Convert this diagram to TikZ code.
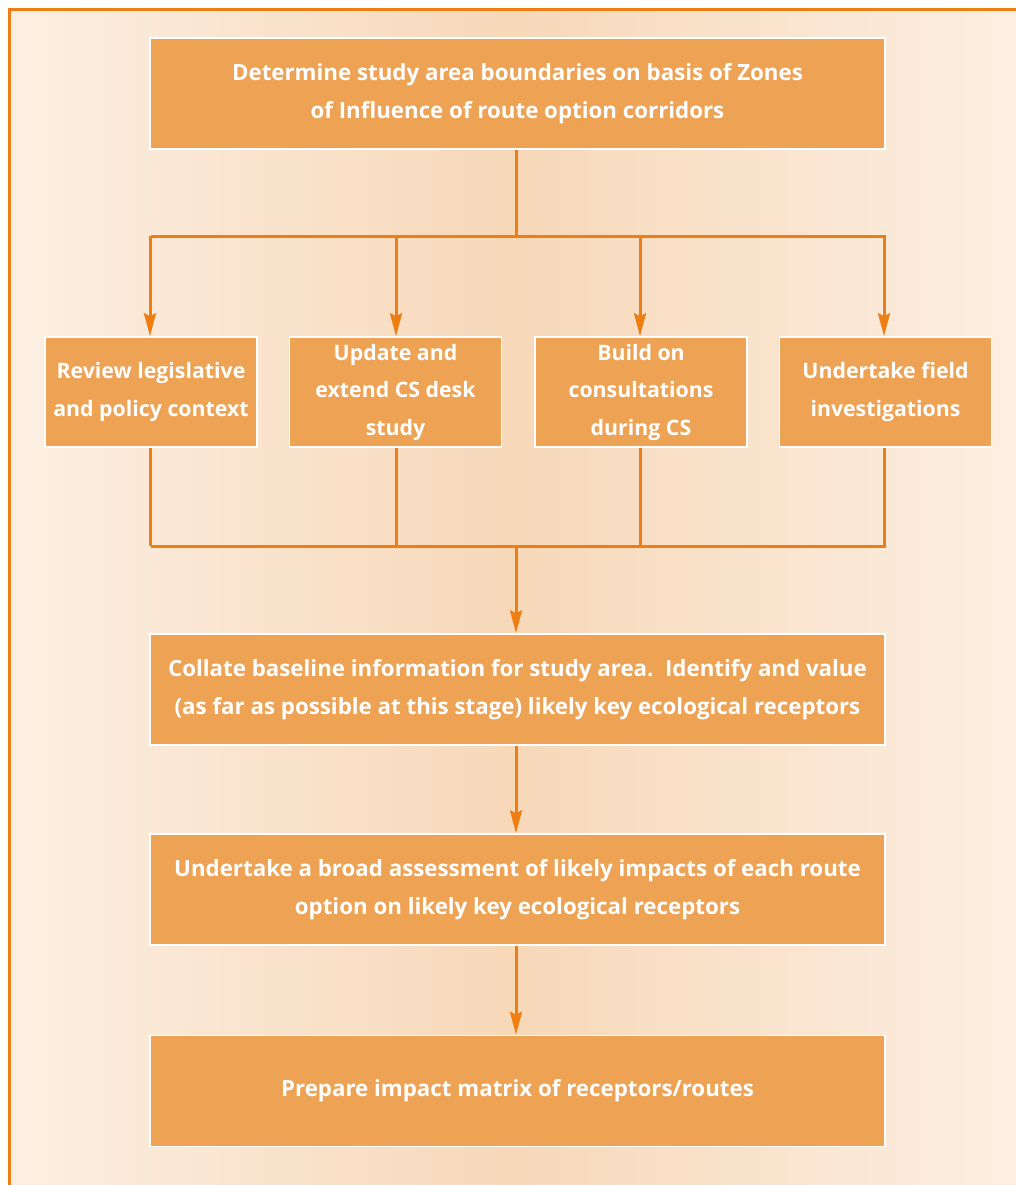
\documentclass[tikz,border=0pt]{standalone}
\usepackage{fontspec}
\setmainfont{Open Sans}
\usetikzlibrary{arrows.meta}

\definecolor{bgedge}{HTML}{FCEFE2}
\definecolor{bgmid}{HTML}{F7D8B9}
\definecolor{boxfill}{HTML}{EDA254}
\definecolor{flowline}{HTML}{EE7D12}

\tikzset{
  stagebox/.style={draw=white, line width=1.5pt, fill=boxfill, text=white,
    font=\fontsize{22.3}{37.5}\selectfont\bfseries, align=center,
    minimum width=735, minimum height=111, inner sep=0pt},
  sidebox/.style={stagebox, font=\fontsize{21.3}{37.5}\selectfont\bfseries,
    minimum width=212, minimum height=110},
  flow/.style={draw=flowline, line width=3pt},
  flowarrow/.style={flow, -{Stealth[length=23pt, width=12pt, inset=3pt]}}
}

\begin{document}
\begin{tikzpicture}[x=1pt, y=-1pt]

\useasboundingbox (0,0) rectangle (1016,1185);

% backdrop and frame
\shade[left color=bgedge, right color=bgedge, middle color=bgmid] (10,10) rectangle (1016,1185);
\draw[flowline, line width=3pt] (9.5,1185) -- (9.5,10) -- (1016,10);

% stages
\node[stagebox] (zone) at (517.5,93.5) {Determine study area boundaries on basis of Zones\\of Influence of route option corridors};

\node[sidebox] (review) at (151,392) {Review legislative\\and policy context};
\node[sidebox] (update) at (395.5,392) {Update and\\extend CS desk\\study};
\node[sidebox] (build) at (641,392) {Build on\\consultations\\during CS};
\node[sidebox] (field) at (885.5,392) {Undertake field\\investigations};

\node[stagebox] (collate) at (517.5,689.5) {Collate baseline information for study area.\ \ Identify and value\\(as far as possible at this stage) likely key ecological receptors};
\node[stagebox] (assess) at (517.5,889.5) {Undertake a broad assessment of likely impacts of each route\\option on likely key ecological receptors};
\node[stagebox] (matrix) at (517.5,1091) {Prepare impact matrix of receptors/routes};

% split and join
\coordinate (split) at (516,236);
\coordinate (join) at (516,546);

\draw[flow] (zone.south -| split) -- (split);
\draw[flow] (review.north |- split) -- (field.north |- split);
\foreach \n/\x in {review/150,update/396,build/640,field/884} {
    \draw[flowarrow] (\x,236) -- (\x,0 |- \n.north);
    \draw[flow] (\x,0 |- \n.south) -- (\x,546);
}
\draw[flow] (review.south |- join) -- (field.south |- join);
\draw[flowarrow] (join) -- (collate.north -| join);

\draw[flowarrow] (collate.south -| join) -- (assess.north -| join);
\draw[flowarrow] (assess.south -| join) -- (matrix.north -| join);

\end{tikzpicture}
\end{document}
